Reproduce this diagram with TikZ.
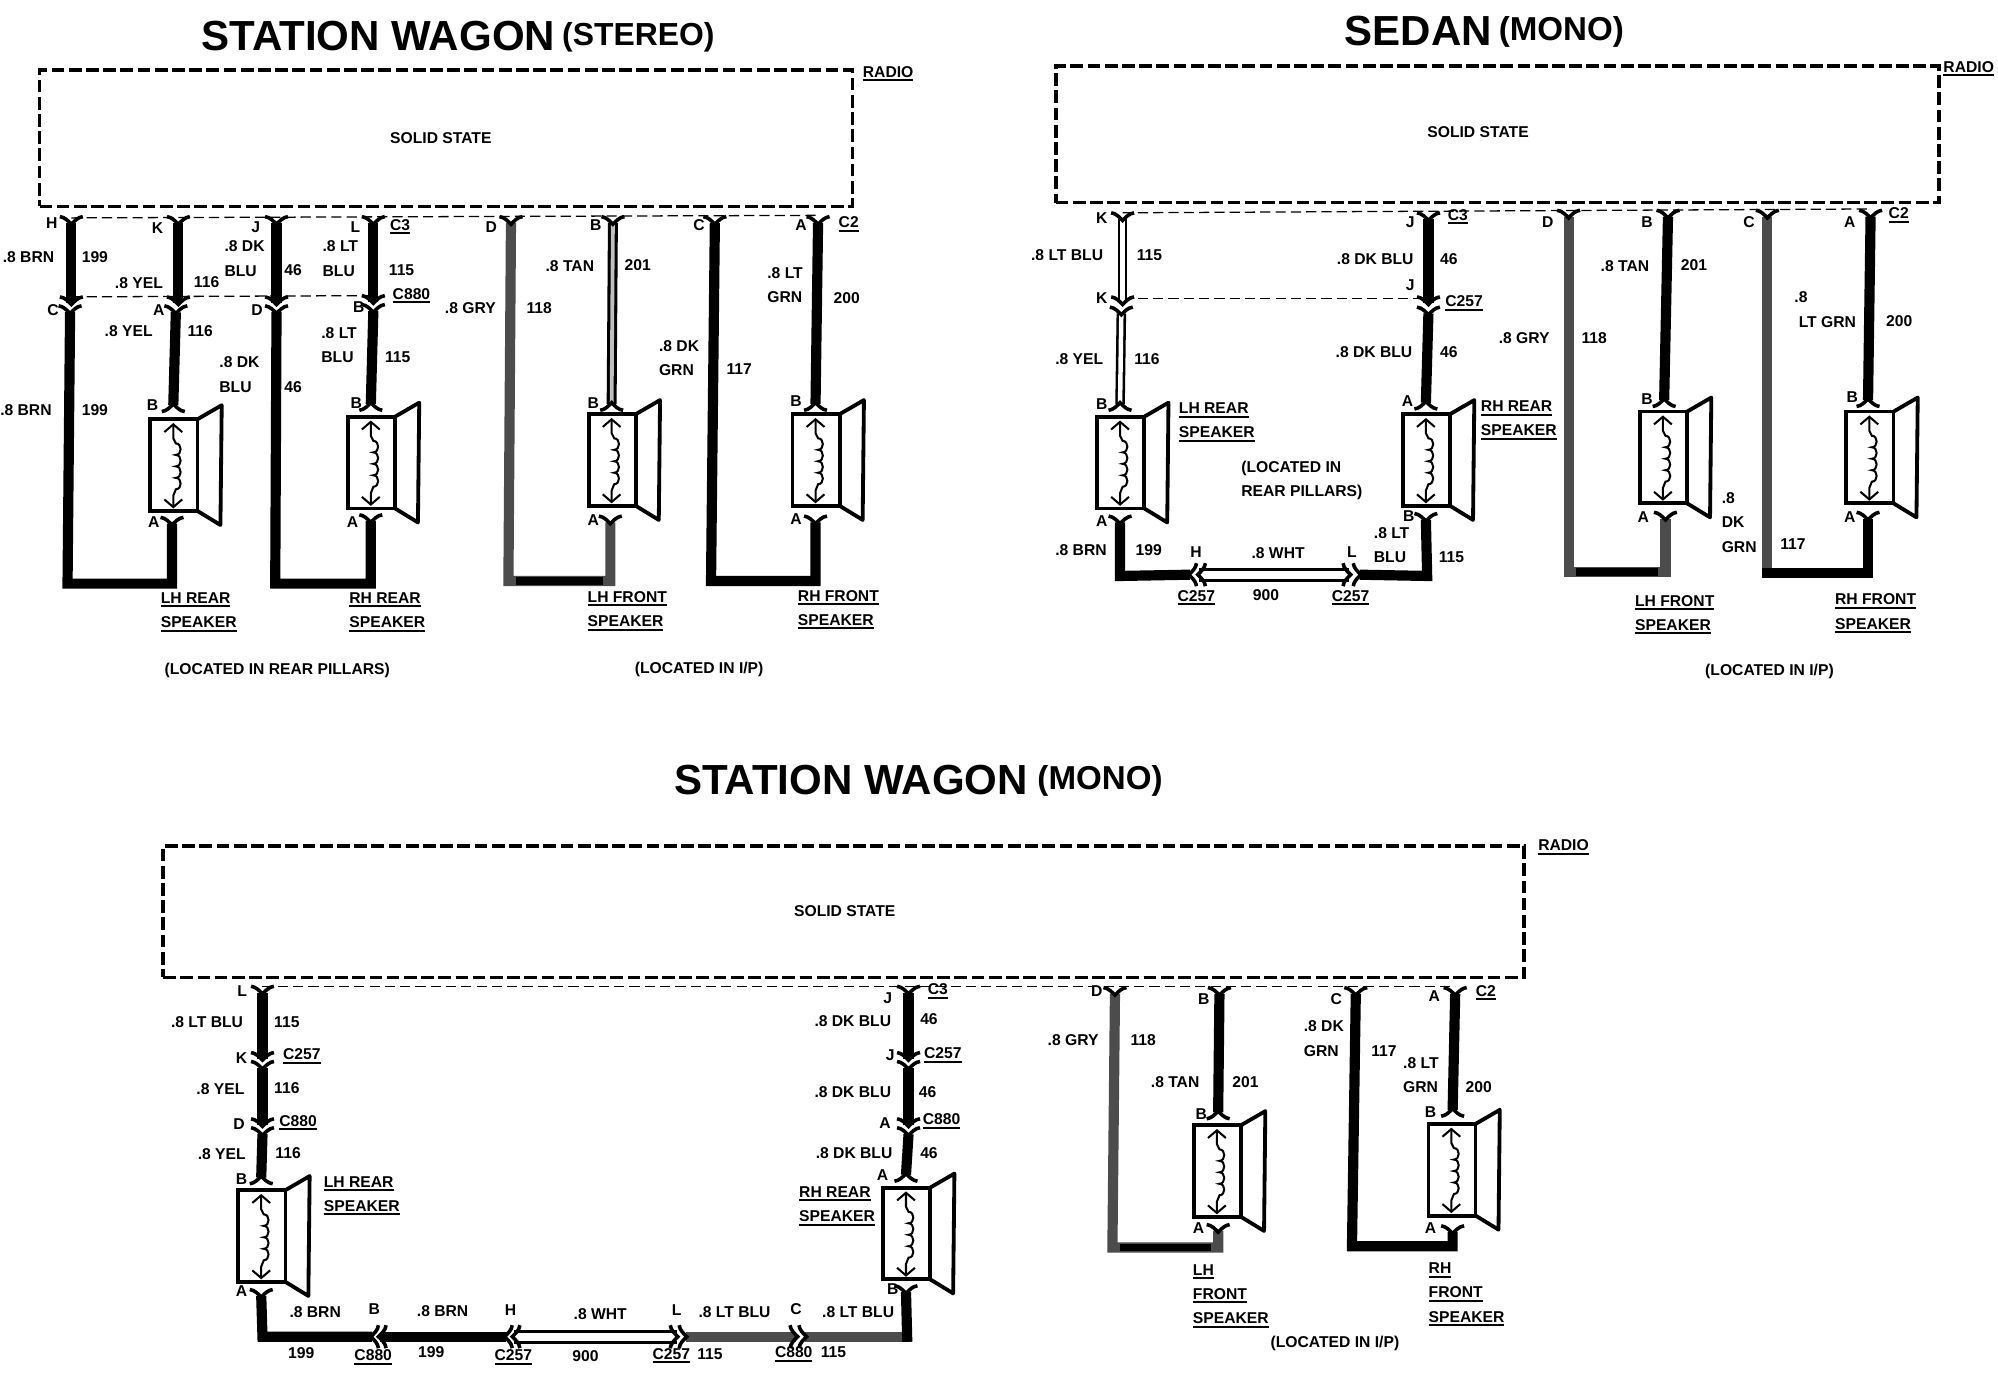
\documentclass[tikz,border=0pt]{standalone}
\usepackage{fontspec}
\setmainfont{Liberation Sans}
\usetikzlibrary{arrows.meta}

\newcommand{\ulabel}[1]{\leavevmode\vtop{\hbox{#1}\kern1.5pt\hrule height 1.6pt}}

\tikzset{
  wire/.style={draw=black,line width=8pt},
  graywire/.style={draw=black!70,line width=8pt},
  lowrun/.style={draw=black,line width=6pt},
  whitewire/.style={draw=black,line width=2pt,double=white,double distance=3.5pt},
  tanwire/.style={draw=black,line width=2.4pt,double=black!25,double distance=3pt},
  longwhite/.style={draw=black,line width=2.2pt,double=white,double distance=6.5pt},
  radiobox/.style={draw=black,line width=2.8pt,dash pattern=on 10pt off 3.5pt},
  busline/.style={draw=black,line width=1pt,dash pattern=on 8pt off 4pt},
  fork/.pic={
    \draw[black,line width=2.8pt] (-9,-5) .. controls (-5,-4.5) and (-2.5,-1.5) .. (0,1)
      .. controls (2.5,-1.5) and (5,-4.5) .. (9,-5);
  },
  speaker/.pic={
    \draw[black,line width=3pt] (0,0) rectangle (37,72);
    \draw[black,line width=3pt,line join=round] (37,0) -- (56,-11) -- (55,83) -- (37,72);
    \draw[black,line width=1.6pt,{Straight Barb[length=6pt,width=14pt]}-{Straight Barb[length=6pt,width=14pt]}]
      (18,3) -- (18,15) -- (20,19)
      .. controls (25,19) and (25,28) .. (20,28)
      .. controls (25,28) and (25,37) .. (20,37)
      .. controls (25,37) and (25,46) .. (20,46)
      .. controls (25,46) and (25,55) .. (20,55)
      -- (18,60) -- (18,70);
  }
}

\begin{document}
\begin{tikzpicture}[x=1pt,y=-1pt,
    every node/.style={font=\bfseries\fontsize{12.3}{19}\selectfont,inner sep=0pt,anchor=west,align=left},
    bigtitle/.style={font=\bfseries\fontsize{33}{36}\selectfont},
    subtitle/.style={font=\bfseries\fontsize{26}{28}\selectfont}]
    \useasboundingbox (0,0) rectangle (1568,1092.4);

    % station wagon (stereo)
    \node[bigtitle] (aTitle) at (158,28) {STATION WAGON};
    \node[subtitle,font=\bfseries\fontsize{25}{28}\selectfont] (aSub) at (441,29) {(STEREO)};
    \node[radiobox,minimum width=638pt,minimum height=107pt,anchor=center] (aRadio) at (350,108.5) {};
    \node (aSolid) at (306,108) {SOLID STATE};
    \node (aRadioLbl) at (677,58) {\ulabel{RADIO}};

    \coordinate (aH) at (56,175);
    \coordinate (aK) at (140,175);
    \coordinate (aJ) at (217,175);
    \coordinate (aL) at (293,175);
    \coordinate (aD) at (401,175);
    \coordinate (aB) at (481,175);
    \coordinate (aC) at (561,175);
    \coordinate (aA) at (642,175);
    \coordinate (aPlugH) at (56,238);
    \coordinate (aPlugK) at (140,238);
    \coordinate (aPlugJ) at (217,238);
    \coordinate (aPlugL) at (293,237);
    \coordinate (aJackH) at (55,245);
    \coordinate (aJackK) at (138,245);
    \coordinate (aJackJ) at (217,245);
    \coordinate (aJackL) at (293,244);
    \coordinate (aSpk1B) at (136,318);
    \coordinate (aSpk1A) at (135,411);
    \coordinate (aSpk2B) at (291,317);
    \coordinate (aSpk2A) at (291,409);
    \coordinate (aSpk3B) at (480,317);
    \coordinate (aSpk3A) at (479,410);
    \coordinate (aSpk4B) at (640,317);
    \coordinate (aSpk4A) at (640,410);
    \coordinate (aLow1) at (405,456);
    \coordinate (aLow2) at (473,456);

    \draw[busline] ([yshift=4pt]aH) -- ([yshift=6pt]aA);
    \draw[busline] ([yshift=5pt]aPlugH) -- ([yshift=5pt]aPlugL);

    \draw[wire] (aH) -- (aPlugH);
    \draw[wire] (aJackH) -- (53,458) -- (135,458) -- (aSpk1A);
    \draw[wire] (aK) -- (aPlugK);
    \draw[wire] (aJackK) -- (aSpk1B);
    \draw[wire] (aJ) -- (aPlugJ);
    \draw[wire] (aJackJ) -- (216,458) -- (291,458) -- (aSpk2A);
    \draw[wire] (aL) -- (aPlugL);
    \draw[wire] (aJackL) -- (aSpk2B);
    \draw[graywire] (aD) -- (399,456) -- (479,456) -- (aSpk3A);
    \draw[lowrun] (aLow1) -- (aLow2);
    \draw[tanwire] (aB) -- (aSpk3B);
    \draw[wire] (aC) -- (558,456) -- (640,456) -- (aSpk4A);
    \draw[wire] (aA) -- (aSpk4B);

    \pic at (aH) {fork};
    \pic at (aK) {fork};
    \pic at (aJ) {fork};
    \pic at (aL) {fork};
    \pic at (aD) {fork};
    \pic at (aB) {fork};
    \pic at (aC) {fork};
    \pic at (aA) {fork};
    \pic at (aPlugH) {fork};
    \pic at (aPlugK) {fork};
    \pic at (aPlugJ) {fork};
    \pic at (aPlugL) {fork};
    \pic at (aJackH) {fork};
    \pic at (aJackK) {fork};
    \pic at (aJackJ) {fork};
    \pic at (aJackL) {fork};
    \pic at (aSpk1A) {fork};
    \pic at (aSpk2A) {fork};
    \pic at (aSpk3A) {fork};
    \pic at (aSpk4A) {fork};
    \pic[rotate=180] at (aSpk1B) {fork};
    \pic[rotate=180] at (aSpk2B) {fork};
    \pic[rotate=180] at (aSpk3B) {fork};
    \pic[rotate=180] at (aSpk4B) {fork};

    \pic at (118,329) {speaker};
    \pic at (273,327) {speaker};
    \pic at (462,325) {speaker};
    \pic at (622,325) {speaker};

    \node (aT1) at (36,175) {H};
    \node (aT2) at (119,179) {K};
    \node (aT3) at (197,178) {J};
    \node (aT4) at (275,178) {L};
    \node (aT5) at (381,178) {D};
    \node (aT6) at (463,177) {B};
    \node (aT7) at (544,177) {C};
    \node (aT8) at (624,177) {A};
    \node (aC3) at (306,178) {\ulabel{C3}};
    \node (aC2) at (658,176) {\ulabel{C2}};
    \node (aT9) at (37,243) {C};
    \node (aT10) at (120,243) {A};
    \node (aT11) at (197,243) {D};
    \node (aT12) at (277,241) {B};
    \node (aC880) at (308,232) {\ulabel{C880}};
    \node (aT13) at (115,318) {B};
    \node (aT14) at (116,410) {A};
    \node (aT15) at (275,316) {B};
    \node (aT16) at (272,410) {A};
    \node (aT17) at (461,316) {B};
    \node (aT18) at (461,408) {A};
    \node (aT19) at (620,315) {B};
    \node (aT20) at (620,407) {A};
    \node (aBrn1) at (2,202) {.8 BRN};
    \node (aNum1) at (64,202) {199};
    \node (aYel1) at (90,222) {.8 YEL};
    \node (aNum2) at (152,221) {116};
    \node (aDk1) at (176,203) {.8 DK\\BLU};
    \node (aNum3) at (223,212) {46};
    \node (aLt1) at (253,203) {.8 LT\\BLU};
    \node (aNum4) at (305,212) {115};
    \node (aGry) at (349,242) {.8 GRY};
    \node (aNum5) at (413,242) {118};
    \node (aTan) at (428,209) {.8 TAN};
    \node (aNum6) at (490,208) {201};
    \node (aDkg) at (517,281) {.8 DK\\GRN};
    \node (aNum7) at (570,290) {117};
    \node (aLtg) at (602,224) {.8 LT\\GRN};
    \node (aNum8) at (654,234) {200};
    \node (aYel2) at (82,260) {.8 YEL};
    \node (aNum9) at (147,260) {116};
    \node (aDk2) at (172,294) {.8 DK\\BLU};
    \node (aNum10) at (223,304) {46};
    \node (aLt2) at (252,271) {.8 LT\\BLU};
    \node (aNum11) at (302,280) {115};
    \node (aBrn2) at (0,322) {.8 BRN};
    \node (aNum12) at (64,322) {199};
    \node (aName1) at (126,480.5) {\ulabel{LH REAR}\\\ulabel{SPEAKER}};
    \node (aName2) at (274,480.5) {\ulabel{RH REAR}\\\ulabel{SPEAKER}};
    \node (aName3) at (461,479.5) {\ulabel{LH FRONT}\\\ulabel{SPEAKER}};
    \node (aName4) at (626,478.5) {\ulabel{RH FRONT}\\\ulabel{SPEAKER}};
    \node (aWhere1) at (129,526) {(LOCATED IN REAR PILLARS)};
    \node (aWhere2) at (498,525) {(LOCATED IN I/P)};

    % sedan (mono)
    \node[bigtitle] (bTitle) at (1055,24) {SEDAN};
    \node[subtitle] (bSub) at (1176,25) {(MONO)};
    \node[radiobox,minimum width=693pt,minimum height=107pt,anchor=center] (bRadio) at (1175,105.5) {};
    \node (bSolid) at (1120,104) {SOLID STATE};
    \node (bRadioLbl) at (1525,54) {\ulabel{RADIO}};

    \coordinate (bK) at (881,172);
    \coordinate (bJ) at (1121,172);
    \coordinate (bD) at (1231,170);
    \coordinate (bB) at (1309,170);
    \coordinate (bC) at (1387,170);
    \coordinate (bA) at (1468,170);
    \coordinate (bPlugK) at (881,238);
    \coordinate (bPlugJ) at (1121,238);
    \coordinate (bJackK) at (880,246);
    \coordinate (bJackJ) at (1121,246);
    \coordinate (bSpk1B) at (879,317);
    \coordinate (bSpk1A) at (879,410);
    \coordinate (bSpk2B) at (1119,316);
    \coordinate (bSpk2A) at (1119,408);
    \coordinate (bSpk3B) at (1306,314);
    \coordinate (bSpk3A) at (1307,407);
    \coordinate (bSpk4B) at (1466,314);
    \coordinate (bSpk4A) at (1466,407);
    \coordinate (bPlugH) at (934,451);
    \coordinate (bJackH) at (941,451);
    \coordinate (bPlugL) at (1059,451);
    \coordinate (bJackL) at (1067,451);
    \coordinate (bLow1) at (1237,449);
    \coordinate (bLow2) at (1301,449);

    \draw[busline] ([yshift=5pt]bK) -- ([yshift=6pt]bA);
    \draw[busline] ([yshift=4pt]bPlugK) -- ([yshift=4pt]bPlugJ);

    \draw[whitewire] (bK) -- (bPlugK);
    \draw[whitewire] (bJackK) -- (bSpk1B);
    \draw[wire] (bJ) -- (bPlugJ);
    \draw[wire] (bJackJ) -- (bSpk2B);
    \draw[wire] (bSpk1A) -- (879,452) -- (bPlugH);
    \draw[longwhite] (bJackH) -- (bPlugL);
    \draw[wire] (bJackL) -- (1120,452) -- (bSpk2A);
    \draw[graywire] (bD) -- (1231,449) -- (1307,449) -- (bSpk3A);
    \draw[lowrun] (bLow1) -- (bLow2);
    \draw[wire] (bB) -- (bSpk3B);
    \draw[graywire] (bC) -- (1387,449);
    \draw[wire] (1383,449.5) -- (1466,449.5) -- (bSpk4A);
    \draw[wire] (bA) -- (bSpk4B);

    \pic at (bK) {fork};
    \pic at (bJ) {fork};
    \pic at (bD) {fork};
    \pic at (bB) {fork};
    \pic at (bC) {fork};
    \pic at (bA) {fork};
    \pic at (bPlugK) {fork};
    \pic at (bPlugJ) {fork};
    \pic at (bJackK) {fork};
    \pic at (bJackJ) {fork};
    \pic at (bSpk1A) {fork};
    \pic at (bSpk2A) {fork};
    \pic at (bSpk3A) {fork};
    \pic at (bSpk4A) {fork};
    \pic[rotate=180] at (bSpk1B) {fork};
    \pic[rotate=180] at (bSpk2B) {fork};
    \pic[rotate=180] at (bSpk3B) {fork};
    \pic[rotate=180] at (bSpk4B) {fork};
    \pic[rotate=-90] at (bPlugH) {fork};
    \pic[rotate=-90] at (bJackH) {fork};
    \pic[rotate=90] at (bPlugL) {fork};
    \pic[rotate=90] at (bJackL) {fork};

    \pic at (861,327) {speaker};
    \pic at (1101,325) {speaker};
    \pic at (1287,323) {speaker};
    \pic at (1449,323) {speaker};

    \node (bT1) at (860,171) {K};
    \node (bT2) at (860,234) {K};
    \node (bT3) at (1103,174) {J};
    \node (bT4) at (1103,224) {J};
    \node (bT5) at (860,317) {B};
    \node (bT6) at (860,409) {A};
    \node (bT7) at (1100,315) {A};
    \node (bT8) at (1101,405) {B};
    \node (bT9) at (1210,174) {D};
    \node (bT10) at (1288,174) {B};
    \node (bT11) at (1368,174) {C};
    \node (bT12) at (1447,174) {A};
    \node (bT13) at (1288,313) {B};
    \node (bT14) at (1285,406) {A};
    \node (bT15) at (1449,312) {B};
    \node (bT16) at (1447,406) {A};
    \node (bT17) at (934,433) {H};
    \node (bT18) at (1057,433) {L};
    \node (bC3) at (1136,170) {\ulabel{C3}};
    \node (bC2) at (1482,169) {\ulabel{C2}};
    \node (bC257a) at (1134,238) {\ulabel{C257}};
    \node (bC257b) at (924,469) {\ulabel{C257}};
    \node (bC257c) at (1045,469) {\ulabel{C257}};
    \node (bLt1) at (809,200) {.8 LT BLU};
    \node (bNum1) at (892,200) {115};
    \node (bDk1) at (1049,203) {.8 DK BLU};
    \node (bNum2) at (1130,203) {46};
    \node (bYel) at (828,282) {.8 YEL};
    \node (bNum3) at (890,282) {116};
    \node (bDk2) at (1048,276) {.8 DK BLU};
    \node (bNum4) at (1130,276) {46};
    \node (bBrn) at (828,432) {.8 BRN};
    \node (bNum5) at (891,432) {199};
    \node (bWht) at (982,434) {.8 WHT};
    \node (bNum6) at (983,467) {900};
    \node (bLt2) at (1078,428) {.8 LT\\BLU};
    \node (bNum7) at (1129,437) {115};
    \node (bGry) at (1176,265) {.8 GRY};
    \node (bNum8) at (1241,265) {118};
    \node (bTan) at (1256,209) {.8 TAN};
    \node (bNum9) at (1319,208) {201};
    \node (bLtg) at (1408,243) {.8\\\ LT GRN};
    \node (bNum10) at (1480,252) {200};
    \node (bDkg) at (1351,410) {.8\\DK\\GRN};
    \node (bNum11) at (1397,427) {117};
    \node (bName1) at (925,331.5) {\ulabel{LH REAR}\\\ulabel{SPEAKER}};
    \node (bName2) at (1162,330) {\ulabel{RH REAR}\\\ulabel{SPEAKER}};
    \node (bName3) at (1283,482.5) {\ulabel{LH FRONT}\\\ulabel{SPEAKER}};
    \node (bName4) at (1440,481.5) {\ulabel{RH FRONT}\\\ulabel{SPEAKER}};
    \node (bWhere1) at (974,377) {(LOCATED IN\\REAR PILLARS)};
    \node (bWhere2) at (1338,527) {(LOCATED IN I/P)};

    % station wagon (mono)
    \node[bigtitle] (cTitle) at (529,612) {STATION WAGON};
    \node[subtitle] (cSub) at (814,613) {(MONO)};
    \node[radiobox,minimum width=1068pt,minimum height=103pt,anchor=center] (cRadio) at (662,715.5) {};
    \node (cSolid) at (623,715) {SOLID STATE};
    \node (cRadioLbl) at (1207,665) {\ulabel{RADIO}};

    \coordinate (cL) at (206,779);
    \coordinate (cJ) at (713,779);
    \coordinate (cD) at (875,780);
    \coordinate (cB) at (957,780);
    \coordinate (cC) at (1064,780);
    \coordinate (cA) at (1142,780);
    \coordinate (cPlugK) at (206,831);
    \coordinate (cJackK) at (206,838);
    \coordinate (cPlugD) at (206,883);
    \coordinate (cJackD) at (206,890);
    \coordinate (cPlugJ) at (713,831);
    \coordinate (cJackJ) at (713,838);
    \coordinate (cPlugA) at (713,883);
    \coordinate (cJackA) at (713,890);
    \coordinate (cSpk1B) at (205,924);
    \coordinate (cSpk1A) at (205,1017);
    \coordinate (cSpk2B) at (711,922);
    \coordinate (cSpk2A) at (711,1014);
    \coordinate (cSpk3B) at (956,873);
    \coordinate (cSpk3A) at (956,966);
    \coordinate (cSpk4B) at (1140,871);
    \coordinate (cSpk4A) at (1140,967);
    \coordinate (cPlugB) at (292,1049);
    \coordinate (cJackB) at (298,1049);
    \coordinate (cPlugH) at (397,1049);
    \coordinate (cJackH) at (403,1049);
    \coordinate (cPlugL) at (531,1049);
    \coordinate (cJackL) at (538,1049);
    \coordinate (cPlugC) at (625,1049);
    \coordinate (cJackC) at (632,1049);
    \coordinate (cLow1) at (879,979);
    \coordinate (cLow2) at (950,979);

    \draw[busline] ([yshift=5pt]cL) -- ([yshift=6pt]cA);

    \draw[wire] (cL) -- (cPlugK);
    \draw[wire] (cJackK) -- (cPlugD);
    \draw[wire] (cJackD) -- (cSpk1B);
    \draw[wire] (cJ) -- (cPlugJ);
    \draw[wire] (cJackJ) -- (cPlugA);
    \draw[wire] (cJackA) -- (cSpk2B);
    \draw[wire] (cSpk1A) -- (206,1049) -- (cPlugB);
    \draw[wire] (cJackB) -- (cPlugH);
    \draw[longwhite] (cJackH) -- (cPlugL);
    \draw[graywire] (cJackL) -- (cPlugC);
    \draw[graywire] (cJackC) -- (716,1049);
    \draw[wire] (cSpk2A) -- (712,1053);
    \draw[graywire] (cD) -- (873,979) -- (956,979) -- (cSpk3A);
    \draw[lowrun] (cLow1) -- (cLow2);
    \draw[wire] (cB) -- (cSpk3B);
    \draw[wire] (cC) -- (1061,978) -- (1140,978) -- (cSpk4A);
    \draw[wire] (cA) -- (cSpk4B);

    \pic at (cL) {fork};
    \pic at (cJ) {fork};
    \pic at (cD) {fork};
    \pic at (cB) {fork};
    \pic at (cC) {fork};
    \pic at (cA) {fork};
    \pic at (cPlugK) {fork};
    \pic at (cJackK) {fork};
    \pic at (cPlugD) {fork};
    \pic at (cJackD) {fork};
    \pic at (cPlugJ) {fork};
    \pic at (cJackJ) {fork};
    \pic at (cPlugA) {fork};
    \pic at (cJackA) {fork};
    \pic at (cSpk1A) {fork};
    \pic at (cSpk2A) {fork};
    \pic at (cSpk3A) {fork};
    \pic at (cSpk4A) {fork};
    \pic[rotate=180] at (cSpk1B) {fork};
    \pic[rotate=180] at (cSpk2B) {fork};
    \pic[rotate=180] at (cSpk3B) {fork};
    \pic[rotate=180] at (cSpk4B) {fork};
    \pic[rotate=-90] at (cPlugB) {fork};
    \pic[rotate=-90] at (cJackB) {fork};
    \pic[rotate=-90] at (cPlugH) {fork};
    \pic[rotate=-90] at (cJackH) {fork};
    \pic[rotate=90] at (cPlugL) {fork};
    \pic[rotate=90] at (cJackL) {fork};
    \pic[rotate=90] at (cPlugC) {fork};
    \pic[rotate=90] at (cJackC) {fork};

    \pic at (187,934) {speaker};
    \pic at (693,932) {speaker};
    \pic at (937,883) {speaker};
    \pic at (1121,882) {speaker};

    \node (cT1) at (186,778) {L};
    \node (cT2) at (185,830) {K};
    \node (cT3) at (183,882) {D};
    \node (cT4) at (185,925) {B};
    \node (cT5) at (185,1013) {A};
    \node (cT6) at (693,783) {J};
    \node (cT7) at (695,828) {J};
    \node (cT8) at (690,881) {A};
    \node (cT9) at (688,922) {A};
    \node (cT10) at (696,1012) {B};
    \node (cT11) at (856,778) {D};
    \node (cT12) at (940,784) {B};
    \node (cT13) at (1044,784) {C};
    \node (cT14) at (1121,782) {A};
    \node (cT15) at (938,874) {B};
    \node (cT16) at (936,964) {A};
    \node (cT17) at (1118,873) {B};
    \node (cT18) at (1118,964) {A};
    \node (cT19) at (289,1027) {B};
    \node (cT20) at (396,1028) {H};
    \node (cT21) at (527,1028) {L};
    \node (cT22) at (620,1027) {C};
    \node (cC3) at (728,778) {\ulabel{C3}};
    \node (cC2) at (1158,779) {\ulabel{C2}};
    \node (cC257a) at (222,829) {\ulabel{C257}};
    \node (cC880a) at (219,881) {\ulabel{C880}};
    \node (cC257b) at (725,828) {\ulabel{C257}};
    \node (cC880b) at (724,880) {\ulabel{C880}};
    \node (cC880c) at (278,1065) {\ulabel{C880}};
    \node (cC257c) at (388,1065) {\ulabel{C257}};
    \node (cC257d) at (512,1064) {\ulabel{C257}};
    \node (cC880d) at (608,1063) {\ulabel{C880}};
    \node (cLt1) at (134,802) {.8 LT BLU};
    \node (cNum1) at (215,802) {115};
    \node (cYel1) at (154,855) {.8 YEL};
    \node (cNum2) at (215,854) {116};
    \node (cYel2) at (155,906) {.8 YEL};
    \node (cNum3) at (216,905) {116};
    \node (cDk1) at (639,801) {.8 DK BLU};
    \node (cNum4) at (722,800) {46};
    \node (cDk2) at (639,857) {.8 DK BLU};
    \node (cNum5) at (721,857) {46};
    \node (cDk3) at (640,905) {.8 DK BLU};
    \node (cNum6) at (722,905) {46};
    \node (cBrn1) at (227,1030) {.8 BRN};
    \node (cBrn2) at (327,1029) {.8 BRN};
    \node (cWht) at (450,1031) {.8 WHT};
    \node (cLt2) at (548,1030) {.8 LT BLU};
    \node (cLt3) at (645,1030) {.8 LT BLU};
    \node (cNum7) at (226,1062) {199};
    \node (cNum8) at (328,1061) {199};
    \node (cNum9) at (449,1064) {900};
    \node (cNum10) at (547,1063) {115};
    \node (cNum11) at (644,1061) {115};
    \node (cGry) at (822,816) {.8 GRY};
    \node (cNum12) at (887,816) {118};
    \node (cTan) at (903,849) {.8 TAN};
    \node (cNum13) at (967,849) {201};
    \node (cDkg) at (1023,815) {.8 DK\\GRN};
    \node (cNum14) at (1076,825) {117};
    \node (cLtg) at (1101,844) {.8 LT\\GRN};
    \node (cNum15) at (1150,853) {200};
    \node (cName1) at (254,938.5) {\ulabel{LH REAR}\\\ulabel{SPEAKER}};
    \node (cName2) at (627,946.5) {\ulabel{RH REAR}\\\ulabel{SPEAKER}};
    \node (cName3) at (936,1017) {\ulabel{LH}\\\ulabel{FRONT}\\\ulabel{SPEAKER}};
    \node (cName4) at (1121,1016) {\ulabel{RH}\\\ulabel{FRONT}\\\ulabel{SPEAKER}};
    \node (cWhere) at (997,1054) {(LOCATED IN I/P)};
  \end{tikzpicture}
\end{document}
